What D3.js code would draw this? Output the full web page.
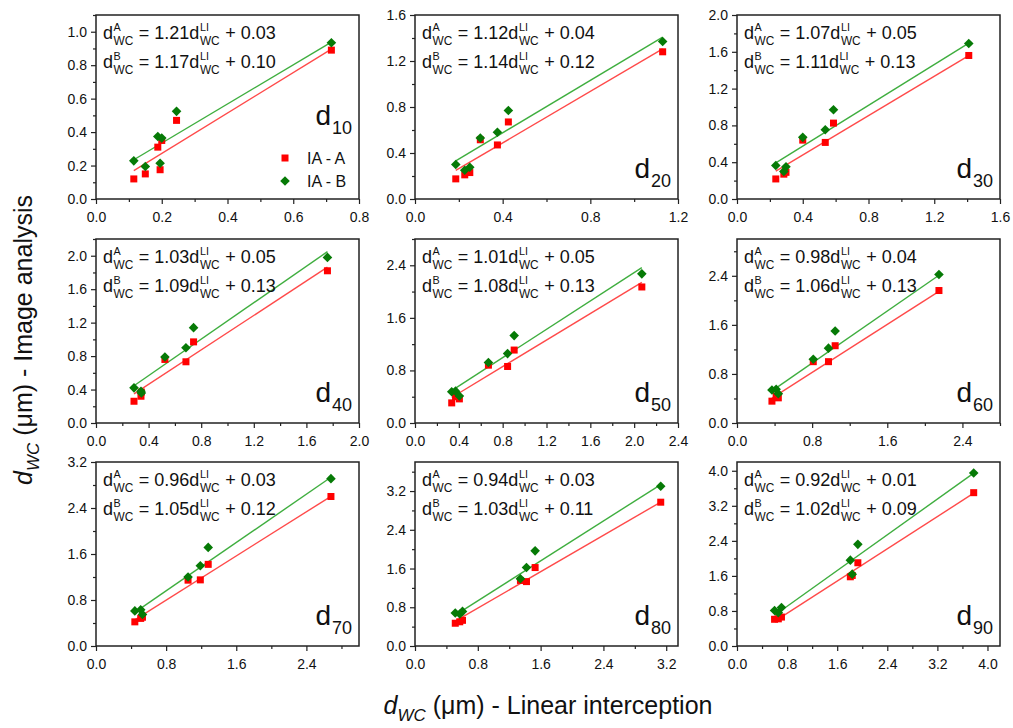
<!DOCTYPE html>
<html>
<head>
<meta charset="utf-8">
<script src="https://cdn.jsdelivr.net/npm/d3@7"></script>
<style>
  body { margin: 0; background: #fff; }
  svg { display: block; }
  text { font-family: "Liberation Sans", Arial, sans-serif; fill: #111; white-space: pre; }
</style>
</head>
<body>
<svg id="chart" width="1013" height="728"></svg>
<script>
// panel names (d10 ... d90)
const panelNames = ["10", "20", "30", "40", "50", "60", "70", "80", "90"];

// axis ranges and tick steps
const xMax = [0.8, 1.2, 1.6, 2.0, 2.4, 2.8, 3.0, 3.35, 4.2];
const yMax = [1.1, 1.6, 2.0, 2.2, 2.8, 3.0, 3.2, 3.8, 4.2];
const xStep = [0.2, 0.4, 0.4, 0.4, 0.4, 0.8, 0.8, 0.8, 0.8];
const yStep = [0.2, 0.4, 0.4, 0.4, 0.8, 0.8, 0.8, 0.8, 0.8];

// fitted lines  d_WC = slope * d_LI + intercept
const slopeA = [1.21, 1.12, 1.07, 1.03, 1.01, 0.98, 0.96, 0.94, 0.92];
const interceptA = ["0.03", "0.04", "0.05", "0.05", "0.05", "0.04", "0.03", "0.03", "0.01"];
const slopeB = [1.17, 1.14, 1.11, 1.09, 1.08, 1.06, 1.05, 1.03, 1.02];
const interceptB = ["0.10", "0.12", "0.13", "0.13", "0.13", "0.13", "0.12", "0.11", "0.09"];

// linear interception values (x) per panel
const xLI = [
  [0.115, 0.150, 0.188, 0.195, 0.200, 0.245, 0.716],
  [0.186, 0.227, 0.250, 0.298, 0.376, 0.426, 1.130],
  [0.236, 0.285, 0.298, 0.400, 0.537, 0.587, 1.410],
  [0.289, 0.342, 0.345, 0.524, 0.684, 0.742, 1.760],
  [0.335, 0.370, 0.405, 0.670, 0.845, 0.905, 2.070],
  [0.372, 0.417, 0.440, 0.812, 0.974, 1.045, 2.150],
  [0.443, 0.510, 0.530, 1.050, 1.190, 1.280, 2.680],
  [0.513, 0.570, 0.605, 1.343, 1.420, 1.530, 3.130],
  [0.600, 0.660, 0.710, 1.810, 1.840, 1.930, 3.780]
];

// image analysis, method A (red squares)
const yIA_A = [
  [0.12, 0.15, 0.31, 0.175, 0.35, 0.47, 0.89],
  [0.175, 0.21, 0.23, 0.515, 0.47, 0.67, 1.28],
  [0.218, 0.27, 0.29, 0.64, 0.615, 0.825, 1.56],
  [0.26, 0.32, 0.37, 0.76, 0.732, 0.97, 1.82],
  [0.306, 0.40, 0.367, 0.88, 0.86, 1.11, 2.07],
  [0.356, 0.44, 0.41, 1.00, 1.00, 1.26, 2.16],
  [0.42, 0.48, 0.50, 1.145, 1.15, 1.42, 2.60],
  [0.47, 0.50, 0.53, 1.354, 1.33, 1.62, 2.97],
  [0.61, 0.62, 0.66, 1.58, 1.61, 1.90, 3.50]
];

// image analysis, method B (green diamonds)
const yIA_B = [
  [0.228, 0.194, 0.374, 0.214, 0.364, 0.524, 0.934],
  [0.30, 0.25, 0.276, 0.53, 0.58, 0.77, 1.37],
  [0.364, 0.30, 0.35, 0.67, 0.753, 0.97, 1.69],
  [0.42, 0.38, 0.36, 0.79, 0.90, 1.14, 1.98],
  [0.475, 0.485, 0.41, 0.92, 1.056, 1.33, 2.27],
  [0.537, 0.55, 0.477, 1.04, 1.22, 1.50, 2.42],
  [0.61, 0.63, 0.55, 1.20, 1.395, 1.715, 2.91],
  [0.68, 0.66, 0.715, 1.39, 1.62, 1.965, 3.30],
  [0.81, 0.76, 0.88, 1.96, 1.64, 2.32, 3.95]
];

const legendLabels = ["IA - A", "IA - B"];

const colA = "#ff0000", colB = "#067a06";
const lineA = "#ff4a4a", lineB = "#3fae3f";

const svg = d3.select("#chart");

const colX = [96, 415, 737];
const rowY = [15, 239, 462];
const pw = 263, ph = 184;

const fmt = d3.format(".1f");

// writes text with stacked super/subscripts, returns end x
function richText(g, x, y, parts, size) {
  let cx = x;
  parts.forEach(p => {
    if (p.t) {
      const t = g.append("text").attr("x", cx).attr("y", y).attr("font-size", size).text(p.t);
      cx += t.node().getComputedTextLength();
    }
    let w = 0;
    if (p.sup) {
      const s = g.append("text").attr("x", cx + 0.5).attr("y", y - size * 0.42)
        .attr("font-size", size * 0.6).text(p.sup);
      w = Math.max(w, s.node().getComputedTextLength());
    }
    if (p.sub) {
      const s = g.append("text").attr("x", cx + 0.5).attr("y", y + size * 0.33)
        .attr("font-size", size * 0.66).text(p.sub);
      w = Math.max(w, s.node().getComputedTextLength());
    }
    cx += w + (w ? 1 : 0);
  });
  return cx;
}

const diamond = r => `M0,${-r}L${r},0L0,${r}L${-r},0Z`;

panelNames.forEach((name, i) => {
  const x0 = colX[i % 3], y0 = rowY[Math.floor(i / 3)];
  const g = svg.append("g").attr("transform", `translate(${x0},${y0})`);

  const x = d3.scaleLinear().domain([0, xMax[i]]).range([0, pw]);
  const y = d3.scaleLinear().domain([0, yMax[i]]).range([ph, 0]);

  const eps = 1e-9;
  const xMaj = d3.range(0, xMax[i] + eps, xStep[i]);
  const xMin = d3.range(xStep[i] / 2, xMax[i] + eps, xStep[i]);
  const yMaj = d3.range(0, yMax[i] + eps, yStep[i]);
  const yMin = d3.range(yStep[i] / 2, yMax[i] + eps, yStep[i]);

  // minor ticks
  g.append("g").attr("transform", `translate(0,${ph})`)
    .call(d3.axisBottom(x).tickValues(xMin).tickSize(3).tickFormat(""))
    .call(a => a.select(".domain").remove());
  g.append("g")
    .call(d3.axisLeft(y).tickValues(yMin).tickSize(3).tickFormat(""))
    .call(a => a.select(".domain").remove());

  // major ticks
  g.append("g").attr("transform", `translate(0,${ph})`)
    .call(d3.axisBottom(x).tickValues(xMaj).tickSize(5).tickPadding(8).tickFormat(fmt))
    .call(a => a.select(".domain").remove())
    .call(a => a.selectAll("text").attr("font-size", 14).attr("font-family", null));
  g.append("g")
    .call(d3.axisLeft(y).tickValues(yMaj).tickSize(5).tickPadding(4).tickFormat(fmt))
    .call(a => a.select(".domain").remove())
    .call(a => a.selectAll("text").attr("font-size", 14).attr("font-family", null));

  g.selectAll(".tick line").attr("stroke", "#222").attr("stroke-width", 1.2);

  // frame
  g.append("rect").attr("width", pw).attr("height", ph)
    .attr("fill", "none").attr("stroke", "#222").attr("stroke-width", 1.5);

  // fit lines over the data range
  const xs = d3.extent(xLI[i]);
  const fits = [
    { s: slopeA[i], b: +interceptA[i], c: lineA },
    { s: slopeB[i], b: +interceptB[i], c: lineB }
  ];
  fits.forEach(f => {
    g.append("line")
      .attr("x1", x(xs[0])).attr("y1", y(f.s * xs[0] + f.b))
      .attr("x2", x(xs[1])).attr("y2", y(f.s * xs[1] + f.b))
      .attr("stroke", f.c).attr("stroke-width", 1.4);
  });

  // points
  g.selectAll(".ptA").data(xLI[i].map((v, k) => [v, yIA_A[i][k]]))
    .enter().append("rect").attr("class", "ptA")
    .attr("x", d => x(d[0]) - 3.5).attr("y", d => y(d[1]) - 3.5)
    .attr("width", 7).attr("height", 7).attr("fill", colA);
  g.selectAll(".ptB").data(xLI[i].map((v, k) => [v, yIA_B[i][k]]))
    .enter().append("path").attr("class", "ptB")
    .attr("transform", d => `translate(${x(d[0])},${y(d[1])})`)
    .attr("d", diamond(4.8)).attr("fill", colB);

  // equations
  richText(g, 7, 24, [
    { t: "d", sup: "A", sub: "WC" },
    { t: " = " + slopeA[i].toFixed(2) + "d", sup: "LI", sub: "WC" },
    { t: " + " + interceptA[i] }
  ], 18);
  richText(g, 7, 53, [
    { t: "d", sup: "B", sub: "WC" },
    { t: " = " + slopeB[i].toFixed(2) + "d", sup: "LI", sub: "WC" },
    { t: " + " + interceptB[i] }
  ], 18);

  // panel label d_xx
  const ly = i === 0 ? 110 : ph - 21;
  const sub = g.append("text").attr("x", pw - 7).attr("y", ly + 9)
    .attr("text-anchor", "end").attr("font-size", 18).text(name);
  const sw = sub.node().getComputedTextLength();
  g.append("text").attr("x", pw - 7 - sw - 1).attr("y", ly)
    .attr("text-anchor", "end").attr("font-size", 28).text("d");

  // legend only in the first panel
  if (i === 0) {
    const lg = g.append("g").attr("transform", "translate(189,143)");
    lg.append("rect").attr("x", -3.5).attr("y", -3.5).attr("width", 7).attr("height", 7).attr("fill", colA);
    lg.append("text").attr("x", 22).attr("y", 6).attr("font-size", 16).text(legendLabels[0]);
    lg.append("path").attr("transform", "translate(0,23)").attr("d", diamond(4.8)).attr("fill", colB);
    lg.append("text").attr("x", 22).attr("y", 29).attr("font-size", 16).text(legendLabels[1]);
  }
});

// axis titles
function axisTitle(g, rest) {
  const t = g.append("text").attr("font-size", 25);
  t.append("tspan").attr("font-style", "italic").text("d");
  t.append("tspan").attr("font-style", "italic").attr("font-size", 17).attr("dy", 7).text("WC");
  t.append("tspan").attr("dy", -7).text(rest);
  return t;
}
const xt = axisTitle(svg.append("g").attr("transform", "translate(548,714)"), " (\u03bcm) - Linear interception");
xt.attr("text-anchor", "middle");
const yt = axisTitle(svg.append("g").attr("transform", "translate(32,340) rotate(-90)"), " (\u03bcm) - Image analysis");
yt.attr("text-anchor", "middle");
</script>
</body>
</html>
